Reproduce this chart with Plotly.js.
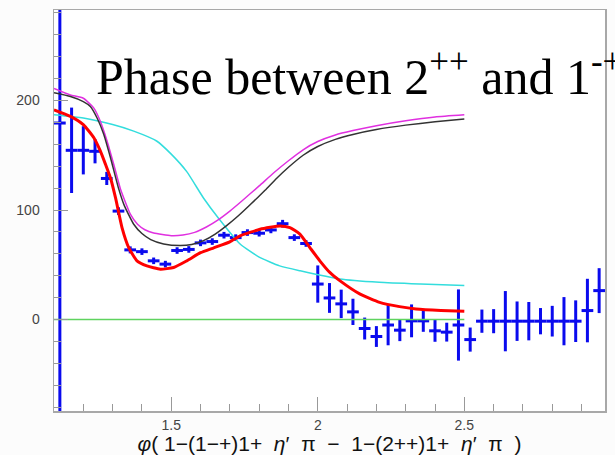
<!DOCTYPE html>
<html>
<head>
<meta charset="utf-8">
<script src="https://cdn.plot.ly/plotly-3.0.1.min.js"></script>
<style>html,body{margin:0;padding:0;background:#fcfcfc;}</style>
</head>
<body>
<div id="chart" style="width:615px;height:455px;"></div>
<script>
// ---- data: measured phase (bins of width 0.04) ----
const binX = [1.12,1.16,1.20,1.24,1.28,1.32,1.36,1.40,1.44,1.48,1.52,1.56,1.60,1.64,1.68,1.72,1.76,1.80,1.84,1.88,1.92,1.96,2.00,2.04,2.08,2.12,2.16,2.20,2.24,2.28,2.32,2.36,2.40,2.44,2.48,2.52,2.56,2.60,2.64,2.68,2.72,2.76,2.80,2.84,2.88,2.92,2.96];
const phase = [179.4,154.5,154.5,153.6,128.8,99,63.6,62,53.6,50.6,63,64,70,71.2,77,74.8,79.4,78.8,81.8,87.5,74.8,69.4,32.4,19.7,14.3,7,-8.2,-15.5,-5,-9.7,-1.2,-1.2,-10.3,-11.5,-5,-18.3,-1.5,-1.5,-1.5,-1.5,-1.5,-1.5,-1.5,-1.5,-1.5,8.2,26.4];
const phaseErr = [1000,39,22,11,6,3.5,3.2,3,3,3,3,3,3,3,3,3,3,3,3,3.5,3,3,17,13.6,13,12,10,9.5,18.5,10,15,10,10,8.6,32.5,11,10.6,11,27.5,18,17.5,12,14,22,19,29,20.5];
const binHalfWidth = 0.02;

// ---- fit curves ----
const redX = [1.10,1.156,1.20,1.236,1.258,1.276,1.293,1.31,1.332,1.355,1.383,1.417,1.463,1.508,1.553,1.60,1.645,1.70,1.735,1.803,1.871,1.905,1.939,1.973,2.007,2.041,2.075,2.143,2.211,2.279,2.335,2.42,2.50];
const redY = [191.5,185.5,178,166,154,141.5,129,111,84,65.7,53.6,49,46,47.5,53.6,61,65.5,71,76.4,82.4,85.5,84,78,65.7,53.6,43,35.5,23.4,15.7,11.8,9.7,8.3,7.5];

const blackX = [1.10,1.156,1.20,1.224,1.247,1.27,1.293,1.32,1.34,1.372,1.40,1.43,1.474,1.53,1.57,1.61,1.65,1.69,1.73,1.77,1.82,1.86,1.90,1.95,2.00,2.06,2.12,2.20,2.30,2.40,2.50];
const blackY = [207,203.6,199,194.5,184,169,147.5,120,104,87,78.5,73,69,67.5,68.5,72,78,86,95,105,118,129,139,150,158,164.5,169,173.5,177.5,180.5,183];

const magX = [1.10,1.156,1.20,1.236,1.258,1.281,1.304,1.327,1.361,1.385,1.41,1.44,1.50,1.54,1.58,1.62,1.66,1.70,1.74,1.80,1.85,1.90,1.95,2.00,2.06,2.12,2.20,2.30,2.40,2.50];
const magY = [211,205,202,193,181,163,141.5,119,96,87,82,79,76.6,77.2,79.6,84.5,91,99,108,122,134,145,155,162.5,168.5,172.5,177,181.5,185,187];

const cyanX = [1.10,1.20,1.30,1.372,1.45,1.50,1.553,1.61,1.66,1.735,1.80,1.87,1.94,2.075,2.21,2.35,2.50];
const cyanY = [187,184,178,172,163,151,135,111,93,69,57,49,44.5,37,34,32.4,31];

const zeroX = [1.10,2.50];
const zeroY = [0,0];

const titleText = 'Phase between 2<sup>++</sup> and 1<sup>-+</sup>';
const xTitle = '<i>φ</i>( 1−(1−+)1+  <i>η</i>′  π  −  1−(2++)1+  <i>η</i>′  π  )';

const traces = [
  {x: binX, y: phase, type: 'scatter', mode: 'markers',
   marker: {size: 1, color: 'rgba(0,0,0,0)'},
   error_y: {type: 'data', array: phaseErr, symmetric: true, color: '#0a0aee', thickness: 3, width: 0},
   error_x: {type: 'constant', value: binHalfWidth, color: '#0a0aee', thickness: 3, width: 0},
   hoverinfo: 'skip'},
  {x: zeroX, y: zeroY, type: 'scatter', mode: 'lines', line: {color: '#5fd35f', width: 1.5}},
  {x: cyanX, y: cyanY, type: 'scatter', mode: 'lines', line: {color: '#33dddd', width: 1.5, shape: 'spline', smoothing: 0.5}},
  {x: magX, y: magY, type: 'scatter', mode: 'lines', line: {color: '#e030e0', width: 1.5, shape: 'spline', smoothing: 0.5}},
  {x: blackX, y: blackY, type: 'scatter', mode: 'lines', line: {color: '#333333', width: 1.5, shape: 'spline', smoothing: 0.5}},
  {x: redX, y: redY, type: 'scatter', mode: 'lines', line: {color: '#ff0000', width: 3, shape: 'spline', smoothing: 0.5}}
];

const tickFont = {family: 'Liberation Sans, Arial, sans-serif', size: 14, color: '#444'};

const layout = {
  width: 615, height: 455,
  margin: {l: 54, r: 10, t: 10, b: 44},
  paper_bgcolor: '#fcfcfc',
  plot_bgcolor: '#ffffff',
  showlegend: false,
  xaxis: {
    range: [1.1, 2.98],
    tickmode: 'linear', tick0: 1.5, dtick: 0.5,
    ticks: 'inside', ticklen: 14, tickwidth: 1, tickcolor: '#999',
    minor: {tickmode: 'linear', tick0: 1.1, dtick: 0.1, ticks: 'inside', ticklen: 7, tickwidth: 1, tickcolor: '#999', showgrid: false},
    showline: true, mirror: true, linecolor: '#a8a8a8', linewidth: 1.5,
    showgrid: false, zeroline: false,
    tickfont: tickFont, ticklabelstandoff: 1,
    title: {text: xTitle, font: {family: 'Liberation Sans, Arial, sans-serif', size: 21, color: '#111'}, standoff: 0}
  },
  yaxis: {
    range: [-83.5, 282.6],
    tickmode: 'linear', tick0: 0, dtick: 100,
    ticks: 'inside', ticklen: 14, tickwidth: 1, tickcolor: '#999',
    minor: {tickmode: 'linear', tick0: 0, dtick: 20, ticks: 'inside', ticklen: 7, tickwidth: 1, tickcolor: '#999', showgrid: false},
    showline: true, mirror: true, linecolor: '#a8a8a8', linewidth: 1.5,
    showgrid: false, zeroline: false,
    tickfont: tickFont, ticklabelstandoff: 10
  },
  annotations: [{
    text: titleText, xref: 'paper', yref: 'paper',
    x: 0.0726, y: 0.842, xanchor: 'left', yanchor: 'middle',
    showarrow: false,
    font: {family: 'Liberation Serif, Times New Roman, serif', size: 50, color: '#000'}
  }]
};

Plotly.newPlot('chart', traces, layout, {displayModeBar: false, staticPlot: true});
</script>
</body>
</html>
